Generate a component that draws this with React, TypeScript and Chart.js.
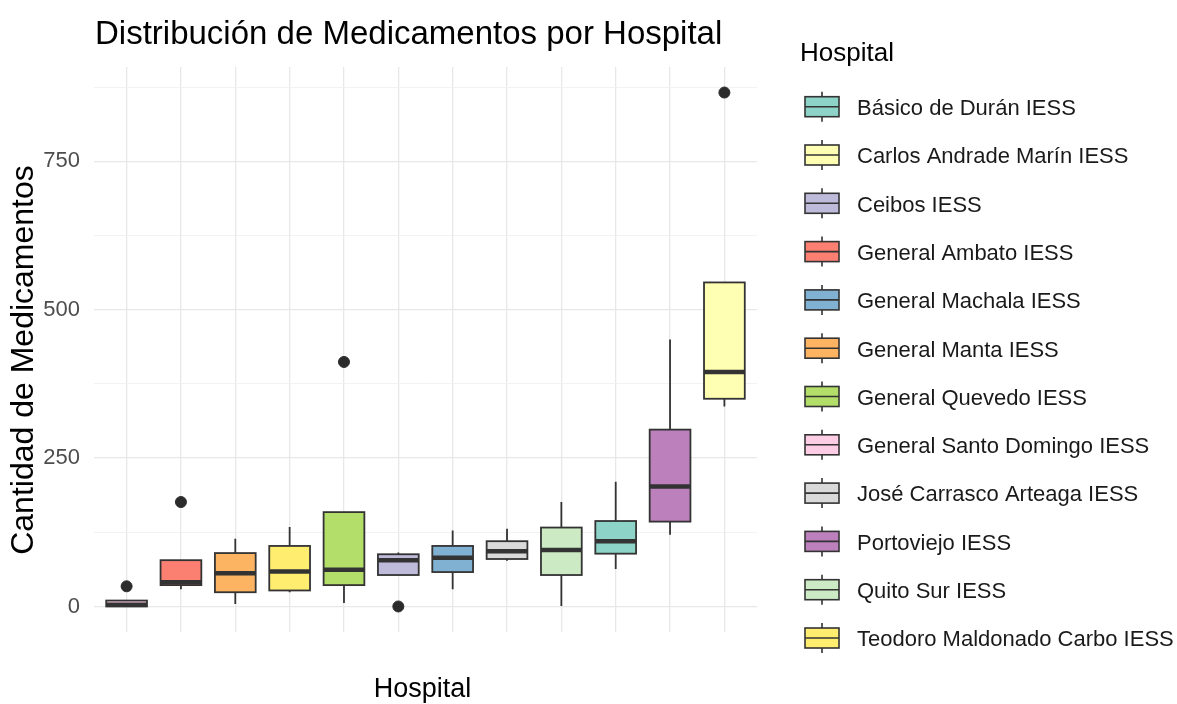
import { useEffect, useRef } from 'react';
import { Chart, registerables } from 'chart.js';

Chart.register(...registerables);

// Hospitals in plotted (x-axis) order
const hospitals = [
  'General Santo Domingo IESS',
  'General Ambato IESS',
  'General Manta IESS',
  'Teodoro Maldonado Carbo IESS',
  'General Quevedo IESS',
  'Ceibos IESS',
  'General Machala IESS',
  'José Carrasco Arteaga IESS',
  'Quito Sur IESS',
  'Básico de Durán IESS',
  'Portoviejo IESS',
  'Carlos Andrade Marín IESS',
];

const lowerWhisker = [0, 29, 4, 24, 6, 53, 29, 77, 1, 63, 121, 337];
const q1Values = [0, 36, 24, 27, 36, 53, 58, 80, 53, 89, 143, 350];
const medianValues = [3, 41, 56, 59, 62, 78, 82, 93, 95, 110, 202, 395];
const q3Values = [10, 78, 90, 102, 159, 88, 102, 110, 133, 144, 298, 546];
const upperWhisker = [10, 78, 114, 134, 159, 91, 128, 131, 176, 210, 450, 546];

const outlierHospitals = [
  'General Santo Domingo IESS',
  'General Ambato IESS',
  'General Quevedo IESS',
  'Ceibos IESS',
  'Carlos Andrade Marín IESS',
];
const outlierValues = [34, 176, 412, 0, 866];

// Legend (alphabetical) order and fill colours
const legendHospitals = [
  'Básico de Durán IESS',
  'Carlos Andrade Marín IESS',
  'Ceibos IESS',
  'General Ambato IESS',
  'General Machala IESS',
  'General Manta IESS',
  'General Quevedo IESS',
  'General Santo Domingo IESS',
  'José Carrasco Arteaga IESS',
  'Portoviejo IESS',
  'Quito Sur IESS',
  'Teodoro Maldonado Carbo IESS',
];
const legendColors = [
  '#8DD3C7', '#FFFFB3', '#BEBADA', '#FB8072', '#80B1D3', '#FDB462',
  '#B3DE69', '#FCCDE5', '#D9D9D9', '#BC80BD', '#CCEBC5', '#FFED6F',
];

const yGridValues = [0, 125, 250, 375, 500, 625, 750, 875];
const yLabeledTicks = [0, 250, 500, 750];

const chartTitle = 'Distribución de Medicamentos por Hospital';
const xTitle = 'Hospital';
const yTitle = 'Cantidad de Medicamentos';
const legendTitle = 'Hospital';

const FONT = '"Liberation Sans", Arial, Helvetica, sans-serif';

export default function App() {
  const ref = useRef<HTMLCanvasElement>(null);

  useEffect(() => {
    const canvas = ref.current;
    if (!canvas) return;

    const boxPlugin = {
      id: 'boxes',
      beforeDatasetsDraw(chart: any) {
        const { ctx, scales } = chart;
        const x = scales.x;
        const y = scales.y;
        ctx.save();
        hospitals.forEach((h, i) => {
          const cx = x.getPixelForValue(i);
          const hw = x.getPixelForValue(i + 0.375) - cx;
          const color = legendColors[legendHospitals.indexOf(h)];
          const yLow = y.getPixelForValue(lowerWhisker[i]);
          const yQ1 = y.getPixelForValue(q1Values[i]);
          const yMed = y.getPixelForValue(medianValues[i]);
          const yQ3 = y.getPixelForValue(q3Values[i]);
          const yHigh = y.getPixelForValue(upperWhisker[i]);
          ctx.strokeStyle = '#333333';
          ctx.lineWidth = 1.8;
          ctx.beginPath();
          ctx.moveTo(cx, yHigh);
          ctx.lineTo(cx, yQ3);
          ctx.moveTo(cx, yQ1);
          ctx.lineTo(cx, yLow);
          ctx.stroke();
          ctx.fillStyle = color;
          ctx.fillRect(cx - hw, yQ3, 2 * hw, yQ1 - yQ3);
          ctx.strokeRect(cx - hw, yQ3, 2 * hw, yQ1 - yQ3);
          ctx.lineWidth = 4.5;
          ctx.beginPath();
          ctx.moveTo(cx - hw, yMed);
          ctx.lineTo(cx + hw, yMed);
          ctx.stroke();
        });
        ctx.restore();
      },
    };

    const textPlugin = {
      id: 'texts',
      afterDraw(chart: any) {
        const { ctx, chartArea } = chart;
        ctx.save();
        // Title
        ctx.fillStyle = '#000000';
        ctx.textAlign = 'left';
        ctx.textBaseline = 'alphabetic';
        ctx.font = `33px ${FONT}`;
        ctx.fillText(chartTitle, chartArea.left + 1, 44);
        // X axis title
        ctx.font = `27px ${FONT}`;
        ctx.textAlign = 'center';
        ctx.fillText(xTitle, (chartArea.left + chartArea.right) / 2 - 3, 697);
        // Y axis title
        ctx.save();
        ctx.translate(33, 360);
        ctx.rotate(-Math.PI / 2);
        ctx.font = `32px ${FONT}`;
        ctx.textAlign = 'center';
        ctx.fillText(yTitle, 0, 0);
        ctx.restore();
        // Legend
        ctx.textAlign = 'left';
        ctx.font = `26px ${FONT}`;
        ctx.fillText(legendTitle, 800, 61);
        ctx.font = `22px ${FONT}`;
        legendHospitals.forEach((name, i) => {
          const base = 115 + 48.3 * i;
          const cy = base - 8.3;
          const kx = 805;
          const kw = 34;
          const kcx = kx + kw / 2;
          ctx.strokeStyle = '#333333';
          ctx.lineWidth = 1.6;
          ctx.beginPath();
          ctx.moveTo(kcx, cy - 15);
          ctx.lineTo(kcx, cy - 10);
          ctx.moveTo(kcx, cy + 10);
          ctx.lineTo(kcx, cy + 15);
          ctx.stroke();
          ctx.fillStyle = legendColors[i];
          ctx.fillRect(kx, cy - 10, kw, 20);
          ctx.strokeRect(kx, cy - 10, kw, 20);
          ctx.beginPath();
          ctx.moveTo(kx, cy);
          ctx.lineTo(kx + kw, cy);
          ctx.stroke();
          ctx.fillStyle = '#1A1A1A';
          ctx.fillText(name, 857, base);
        });
        ctx.restore();
      },
    };

    const chart = new Chart(canvas, {
      type: 'scatter',
      data: {
        datasets: [
          {
            data: outlierHospitals.map((h, k) => ({ x: hospitals.indexOf(h), y: outlierValues[k] })),
            backgroundColor: '#2B2B2B',
            borderColor: '#2B2B2B',
            pointRadius: 5.5,
            pointHoverRadius: 5.5,
          },
        ],
      },
      options: {
        animation: false,
        responsive: false,
        devicePixelRatio: 1,
        layout: { padding: { left: 0, top: 67, right: 420, bottom: 72 } },
        plugins: {
          legend: { display: false },
          title: { display: false },
          tooltip: { enabled: false },
        },
        scales: {
          x: {
            type: 'linear',
            min: -0.6,
            max: 11.6,
            afterBuildTicks: (s: any) => {
              s.ticks = hospitals.map((_, i) => ({ value: i }));
            },
            afterFit: (s: any) => {
              s.height = 0;
            },
            ticks: { display: false, autoSkip: false },
            grid: { color: '#E8E8E8', lineWidth: 1.3, drawTicks: false },
            border: { display: false },
          },
          y: {
            type: 'linear',
            min: -43,
            max: 909,
            afterBuildTicks: (s: any) => {
              s.ticks = yGridValues.map((v) => ({ value: v }));
            },
            afterFit: (s: any) => {
              s.width = 94;
            },
            ticks: {
              autoSkip: false,
              padding: 14,
              color: '#4D4D4D',
              font: { family: FONT, size: 22 },
              callback: (v: any) => (yLabeledTicks.includes(Number(v)) ? String(v) : ''),
            },
            grid: {
              drawTicks: false,
              color: (c: any) => (yLabeledTicks.includes(c.tick?.value) ? '#E8E8E8' : '#F1F1F1'),
              lineWidth: (c: any) => (yLabeledTicks.includes(c.tick?.value) ? 1.3 : 0.9),
            },
            border: { display: false },
          },
        },
      },
      plugins: [boxPlugin, textPlugin],
    });

    return () => chart.destroy();
  }, []);

  return (
    <div style={{ position: 'fixed', left: 0, top: 0, width: 1177, height: 704, background: '#ffffff' }}>
      <canvas ref={ref} width={1177} height={704} style={{ display: 'block' }} />
    </div>
  );
}
